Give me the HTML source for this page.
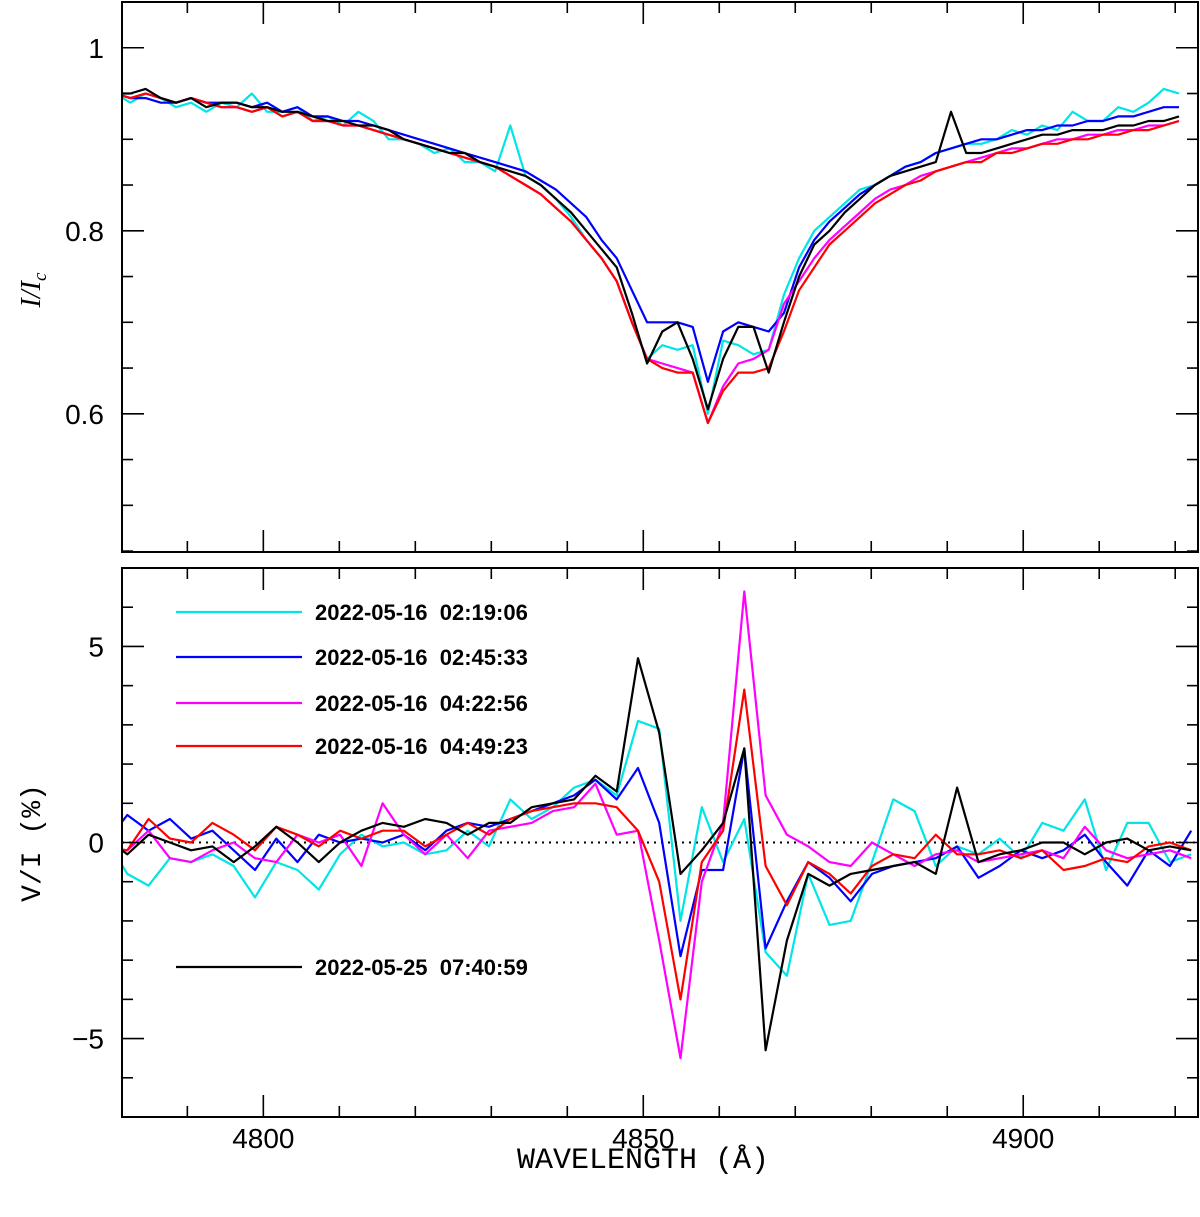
<!DOCTYPE html>
<html><head><meta charset="utf-8"><style>
html,body{margin:0;padding:0;background:#fff;}
svg{display:block;}
text{font-family:"Liberation Sans",sans-serif;}
</style></head><body>
<svg id="chart" width="1200" height="1217" viewBox="0 0 1200 1217">
<g id="top"></g>
<g id="bot"></g>
<g id="legend"></g>
<text x="40" y="290" transform="rotate(-90 40 290)" text-anchor="middle" font-size="28" font-style="italic" style="font-family:'Liberation Serif',serif">I/I<tspan font-size="19" dy="6">c</tspan></text>
<text x="40" y="843" transform="rotate(-90 40 843)" text-anchor="middle" font-size="28" style="font-family:'Liberation Mono',monospace">V/I (%)</text>
<text x="643" y="1168" text-anchor="middle" font-size="30" style="font-family:'Liberation Mono',monospace">WAVELENGTH (Å)</text>
</svg>
<script>
const NS="http://www.w3.org/2000/svg";
const seriesColors=["#00e5e5","#0000ff","#ff00ff","#ff0000","#000000"];
const seriesNames=["2022-05-16  02:19:06","2022-05-16  02:45:33","2022-05-16  04:22:56","2022-05-16  04:49:23","2022-05-25  07:40:59"];
const topStart=4778.5, topStep=2;
const botStart=4779.3, botStep=2.8;
const xTicks=[4800,4850,4900];
const topYTicks=[0.6,0.8,1];
const topYTickLabels=["0.6","0.8","1"];
const botYTicks=[-5,0,5];
const botYTickLabels=["−5","0","5"];
const topCyan=[.96,.95,.94,.95,.945,.935,.94,.93,.94,.935,.95,.93,.93,.935,.92,.925,.915,.93,.92,.9,.9,.895,.885,.89,.875,.875,.865,.915,.86,.85,.835,.815,.79,.77,.745,.70,.66,.675,.67,.675,.60,.68,.675,.665,.67,.73,.77,.80,.815,.83,.845,.85,.86,.87,.875,.885,.89,.895,.895,.9,.91,.905,.915,.91,.93,.92,.92,.935,.93,.94,.955,.95];
const topBlue=[.955,.95,.945,.945,.94,.94,.945,.94,.94,.94,.935,.94,.93,.935,.925,.925,.92,.92,.915,.91,.905,.9,.895,.89,.885,.88,.875,.87,.865,.855,.845,.83,.815,.79,.77,.735,.70,.70,.70,.695,.635,.69,.70,.695,.69,.71,.76,.79,.81,.825,.84,.85,.86,.87,.875,.885,.89,.895,.9,.9,.905,.91,.91,.915,.915,.92,.92,.925,.925,.93,.935,.935];
const topMagenta=[.95,.95,.945,.95,.945,.94,.945,.94,.935,.935,.93,.935,.925,.93,.92,.92,.915,.915,.91,.905,.9,.895,.89,.885,.88,.875,.87,.86,.85,.84,.825,.81,.79,.77,.745,.70,.66,.655,.65,.645,.59,.63,.655,.66,.67,.72,.745,.77,.79,.805,.82,.835,.845,.85,.86,.865,.87,.875,.88,.885,.89,.89,.895,.9,.9,.905,.905,.91,.91,.915,.915,.92];
const topRed=[.95,.95,.945,.95,.945,.94,.945,.94,.935,.935,.93,.935,.925,.93,.92,.92,.915,.915,.91,.905,.9,.895,.89,.885,.88,.875,.87,.86,.85,.84,.825,.81,.79,.77,.745,.70,.66,.65,.645,.645,.59,.625,.645,.645,.65,.69,.735,.76,.785,.80,.815,.83,.84,.85,.855,.865,.87,.875,.875,.885,.885,.89,.895,.895,.9,.9,.905,.905,.91,.91,.915,.92];
const topBlack=[.95,.95,.95,.955,.945,.94,.945,.935,.94,.94,.935,.935,.93,.93,.925,.92,.92,.915,.915,.91,.9,.895,.89,.885,.885,.875,.87,.865,.86,.85,.835,.82,.80,.78,.76,.71,.655,.69,.70,.66,.605,.66,.695,.695,.645,.70,.75,.785,.80,.82,.835,.85,.86,.865,.87,.875,.93,.885,.885,.89,.895,.9,.905,.905,.91,.91,.91,.915,.915,.92,.92,.925];
const botCyan=[0.1,-0.8,-1.1,-0.4,-0.5,-0.3,-0.6,-1.4,-0.5,-0.7,-1.2,-0.3,0.2,-0.1,0.0,-0.3,-0.2,0.3,-0.1,1.1,0.6,0.9,1.4,1.6,1.2,3.1,2.9,-2.0,0.9,-0.5,0.6,-2.8,-3.4,-0.8,-2.1,-2.0,-0.5,1.1,0.8,-0.6,-0.1,-0.3,0.1,-0.4,0.5,0.3,1.1,-0.7,0.5,0.5,-0.5,-0.3];
const botBlue=[0.0,0.7,0.3,0.6,0.1,0.3,-0.2,-0.7,0.1,-0.5,0.2,0.0,0.1,0.0,0.2,-0.2,0.3,0.5,0.4,0.6,0.8,1.0,1.2,1.6,1.1,1.9,0.5,-2.9,-0.7,-0.7,2.4,-2.7,-1.5,-0.5,-0.9,-1.5,-0.8,-0.6,-0.5,-0.4,-0.1,-0.9,-0.6,-0.2,-0.4,-0.2,0.2,-0.5,-1.1,-0.2,-0.6,0.3];
const botMagenta=[-0.1,-0.2,0.3,-0.4,-0.5,-0.2,0.0,-0.4,-0.5,0.2,0.0,0.2,-0.6,1.0,0.2,-0.3,0.2,-0.4,0.3,0.4,0.5,0.8,0.9,1.5,0.2,0.3,-2.5,-5.5,-1.0,0.5,6.4,1.2,0.2,-0.1,-0.5,-0.6,0.0,-0.3,-0.6,-0.3,-0.2,-0.5,-0.4,-0.3,-0.2,-0.4,0.4,-0.2,-0.4,-0.3,-0.2,-0.4];
const botRed=[-0.2,-0.2,0.6,0.1,0.0,0.5,0.2,-0.2,0.4,0.2,-0.1,0.3,0.1,0.3,0.3,-0.1,0.2,0.5,0.2,0.6,0.8,0.9,1.0,1.0,0.9,0.3,-1.0,-4.0,-0.5,0.3,3.9,-0.6,-1.6,-0.5,-0.8,-1.3,-0.6,-0.3,-0.4,0.2,-0.3,-0.3,-0.2,-0.4,-0.2,-0.7,-0.6,-0.4,-0.5,-0.1,0.0,-0.2];
const botBlack=[0.1,-0.3,0.2,0.0,-0.2,-0.1,-0.5,-0.1,0.4,0.0,-0.5,0.0,0.3,0.5,0.4,0.6,0.5,0.2,0.5,0.5,0.9,1.0,1.1,1.7,1.3,4.7,2.8,-0.8,-0.2,0.5,2.4,-5.3,-2.5,-0.8,-1.1,-0.8,-0.7,-0.6,-0.5,-0.8,1.4,-0.5,-0.3,-0.2,0.0,0.0,-0.3,0.0,0.1,-0.2,-0.1,-0.2];

const L=122,R=1198;
const xMin=4781.4,xMax=4923;
const X=v=>L+(v-xMin)/(xMax-xMin)*(R-L);
const TT=2,TB=552,BT=568,BB=1117;
const topMin=0.449,topMax=1.05,botMin=-7,botMax=7;
const YT=v=>TB-(v-topMin)/(topMax-topMin)*(TB-TT);
const YB=v=>BB-(v-botMin)/(botMax-botMin)*(BB-BT);

function mk(tag,attrs,parent){const e=document.createElementNS(NS,tag);for(const k in attrs)e.setAttribute(k,attrs[k]);parent.appendChild(e);return e;}

function panel(g,top,bot,Y,yMin,yMax,minorStep,yTicks,yLabels,series,start,step,clipId,name){
  const defs=mk('defs',{},g);
  const cp=mk('clipPath',{id:clipId},defs);
  mk('rect',{x:L,y:top,width:R-L,height:bot-top},cp);
  const lines=mk('g',{'clip-path':'url(#'+clipId+')'},g);
  series.forEach((arr,si)=>{
    const pts=arr.map((v,i)=>X(start+i*step).toFixed(1)+','+Y(v).toFixed(1)).join(' ');
    const pl=mk('polyline',{points:pts,fill:'none',stroke:seriesColors[si],'stroke-width':2.2,'stroke-linejoin':'round'},lines);
    
    
  });
  const fr=mk('rect',{x:L,y:top,width:R-L,height:bot-top,fill:'none',stroke:'#000','stroke-width':2},g);
  
  
  for(let w=4790;w<=4920;w+=10){
    const major=(w%50===0);const len=major?22:11;const x=X(w);
    mk('line',{x1:x,x2:x,y1:bot,y2:bot-len,stroke:'#000','stroke-width':1.6},g);
    mk('line',{x1:x,x2:x,y1:top,y2:top+len,stroke:'#000','stroke-width':1.6},g);
  }
  const n0=Math.ceil(yMin/minorStep-1e-6),n1=Math.floor(yMax/minorStep+1e-6);
  for(let k=n0;k<=n1;k++){
    const v=k*minorStep;const major=yTicks.some(t=>Math.abs(t-v)<1e-6);const len=major?22:11;const y=Y(v);
    mk('line',{x1:L,x2:L+len,y1:y,y2:y,stroke:'#000','stroke-width':1.6},g);
    mk('line',{x1:R,x2:R-len,y1:y,y2:y,stroke:'#000','stroke-width':1.6},g);
  }
  yTicks.forEach((t,i)=>{
    const tx=mk('text',{x:104,y:Y(t)+10,'text-anchor':'end','font-size':28},g);
    tx.textContent=yLabels[i];
    
    
  });
}
panel(document.getElementById('top'),TT,TB,YT,topMin,topMax,0.05,topYTicks,topYTickLabels,[topCyan,topBlue,topMagenta,topRed,topBlack],topStart,topStep,'cpTop','top');
const bg=document.getElementById('bot');
const zl=mk('line',{x1:L,x2:R,y1:YB(0),y2:YB(0),stroke:'#000','stroke-width':2,'stroke-dasharray':'2,5'},bg);


panel(bg,BT,BB,YB,botMin,botMax,1,botYTicks,botYTickLabels,[botCyan,botBlue,botMagenta,botRed,botBlack],botStart,botStep,'cpBot','bottom');
xTicks.forEach(w=>{
  const tx=mk('text',{x:X(w),y:1148,'text-anchor':'middle','font-size':28},bg);
  tx.textContent=w;
  
  
});
const lg=document.getElementById('legend');
const legY=[612,657,703,746,967];
seriesNames.forEach((nm,i)=>{
  const ln=mk('line',{x1:176,x2:302,y1:legY[i],y2:legY[i],stroke:seriesColors[i],'stroke-width':2.2},lg);
  
  
  const tx=mk('text',{x:315,y:legY[i]+8,'font-size':22,'font-weight':'bold'},lg);
  tx.style.whiteSpace='pre';
  tx.textContent=nm;
  
  
});
</script>
</body></html>
